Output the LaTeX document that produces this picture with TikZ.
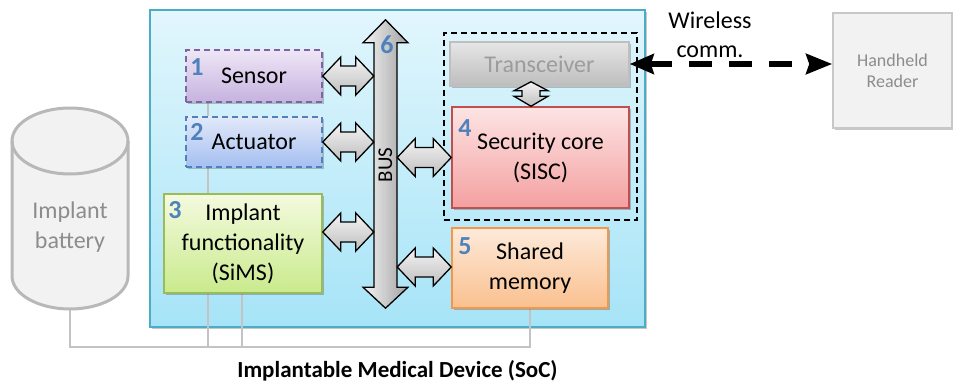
\documentclass[tikz,border=0pt]{standalone}
\usepackage{fontspec}
\setmainfont{Carlito}
\usetikzlibrary{calc,shadows,arrows.meta}
\definecolor{mainborder}{HTML}{4BACC6}
\definecolor{maintop}{HTML}{E2F6FD}
\definecolor{mainbot}{HTML}{A6E4F7}
\definecolor{senborder}{HTML}{8064A2}
\definecolor{sentop}{HTML}{EEE6F6}
\definecolor{senbot}{HTML}{C6B2DF}
\definecolor{actborder}{HTML}{4F81BD}
\definecolor{acttop}{HTML}{E2E9F9}
\definecolor{actbot}{HTML}{A5BFF1}
\definecolor{simsborder}{HTML}{9BBB59}
\definecolor{simstop}{HTML}{F4FADF}
\definecolor{simsbot}{HTML}{C9EA8C}
\definecolor{trxborder}{HTML}{BFBFBF}
\definecolor{trxtop}{HTML}{E6E6E6}
\definecolor{trxbot}{HTML}{BDBDBD}
\definecolor{trxtext}{HTML}{9C9C9C}
\definecolor{secborder}{HTML}{C0504D}
\definecolor{sectop}{HTML}{FDE4E4}
\definecolor{secbot}{HTML}{F4A0A0}
\definecolor{memborder}{HTML}{F79646}
\definecolor{memtop}{HTML}{FDEADA}
\definecolor{membot}{HTML}{FAC08F}
\definecolor{hhfill}{HTML}{F2F2F2}
\definecolor{hhborder}{HTML}{C8C8C8}
\definecolor{hhtext}{HTML}{8C8C8C}
\definecolor{batborder}{HTML}{B8B8B8}
\definecolor{wirecol}{HTML}{C3C3C3}
\definecolor{numblue}{HTML}{4F81BD}
\definecolor{arrtop}{HTML}{F4F4F4}
\definecolor{arrbot}{HTML}{BEBEBE}
\pgfdeclarelayer{back}
\pgfdeclarelayer{wires}
\pgfsetlayers{back,wires,main}
\newcommand\harr[2]{\draw[blockarrow] let \p1=#1, \p2=#2 in
  (\x1,\y1) -- (\x1+18pt,\y1+19pt) -- (\x1+18pt,\y1+10pt) -- (\x2-18pt,\y1+10pt)
  -- (\x2-18pt,\y1+19pt) -- (\x2,\y1) -- (\x2-18pt,\y1-19pt) -- (\x2-18pt,\y1-10pt)
  -- (\x1+18pt,\y1-10pt) -- (\x1+18pt,\y1-19pt) -- cycle;}
\begin{document}
\begin{tikzpicture}[x=1pt,y=-1pt,
  txt/.style={font=\fontsize{24}{30}\selectfont},
  shad/.style={drop shadow={shadow xshift=2pt,shadow yshift=-2pt,opacity=0.22,fill=black}},
  box/.style={shad,draw,line width=1.5pt,align=center,inner sep=0pt,txt},
  num/.style={font=\fontsize{26}{26}\selectfont\bfseries,text=numblue},
  blockarrow/.style={draw=black,line width=1.3pt,line join=miter,top color=arrtop,bottom color=arrbot},
  wire/.style={draw=wirecol,line width=2.5pt}]
\useasboundingbox (0,0) rectangle (953,385);

\begin{pgfonlayer}{back}
\node[shad,draw=mainborder,line width=2pt,top color=maintop,bottom color=mainbot,
  minimum width=495pt,minimum height=317pt,inner sep=0pt] (soc) at (397.5,168.5) {};
\end{pgfonlayer}

% battery
\node[minimum width=116pt,minimum height=201pt,inner sep=0pt] (battery) at (70,208.5) {};
\filldraw[fill=hhfill,draw=batborder,line width=3pt]
  (12,141) -- (12,276) .. controls (12,294.2) and (38,309) .. (70,309)
  .. controls (102,309) and (128,294.2) .. (128,276) -- (128,141)
  .. controls (128,122.8) and (102,108) .. (70,108)
  .. controls (38,108) and (12,122.8) .. (12,141) -- cycle;
\draw[draw=batborder,line width=3pt] (12,141) .. controls (12,159.2) and (38,174) .. (70,174)
  .. controls (102,174) and (128,159.2) .. (128,141);
\node[txt,text=hhtext,align=center] (battxt) at (70,227.5) {Implant\\battery};

% boxes
\node[box,draw=senborder,dashed,dash pattern=on 6pt off 4pt,top color=sentop,bottom color=senbot,
  minimum width=136pt,minimum height=52pt] (sensor) at (254,76) {Sensor};
\node[box,draw=actborder,dashed,dash pattern=on 6pt off 4pt,top color=acttop,bottom color=actbot,
  minimum width=136pt,minimum height=50pt] (actuator) at (254,142) {Actuator};
\node[box,draw=simsborder,top color=simstop,bottom color=simsbot,
  minimum width=158pt,minimum height=99pt] (sims) at (243,243.5) {Implant\\functionality\\(SiMS)};
\node[draw,line width=1.8pt,dash pattern=on 6pt off 4pt,minimum width=193pt,minimum height=187pt,
  inner sep=0pt] (secure) at (540.5,126.5) {};
\node[box,draw=trxborder,top color=trxtop,bottom color=trxbot,text=trxtext,
  minimum width=179pt,minimum height=44pt] (trx) at (539.5,64) {Transceiver};
\node[box,draw=secborder,top color=sectop,bottom color=secbot,
  minimum width=177pt,minimum height=101pt] (sec) at (540.5,157.5) {Security core\\(SISC)};
\node[box,draw=memborder,top color=memtop,bottom color=membot,
  minimum width=156pt,minimum height=80pt] (mem) at (530,268) {Shared\\memory};
\node[box,draw=hhborder,fill=hhfill,text=hhtext,font=\fontsize{18}{21}\selectfont,
  minimum width=119pt,minimum height=115pt] (hh) at (892.5,70.5) {Handheld\\Reader};

% numbers
\node[num] (n1) at (197,67) {1};
\node[num] (n2) at (197,132) {2};
\node[num] (n3) at (175,210) {3};
\node[num] (n4) at (465,128) {4};
\node[num] (n5) at (465,246) {5};

% wires
\coordinate (gnd) at (70,347);
\coordinate (w1) at (208,347);
\coordinate (w2) at (242,347);
\begin{pgfonlayer}{wires}
\draw[wire] (battery.south) -- (gnd) -| (mem.south);
\draw[wire] (w1) -- (w1 |- sensor.south);
\draw[wire] (w2) -- (w2 |- sims.south);
\end{pgfonlayer}

% bus
\node[minimum width=23pt,minimum height=288pt,inner sep=0pt] (bus) at (385.5,164) {};
\draw[draw=black,line width=1.3pt,line join=miter,left color=arrtop,right color=arrbot!85!black]
  let \p1=(bus.north), \p2=(bus.south) in
  (\x1,\y1) -- (\x1+22.5pt,\y1-23pt) -- (\x1+11.5pt,\y1-23pt) -- (\x1+11.5pt,\y2+21pt)
  -- (\x1+22.5pt,\y2+21pt) -- (\x2,\y2) -- (\x1-22.5pt,\y2+21pt) -- (\x1-11.5pt,\y2+21pt)
  -- (\x1-11.5pt,\y1-23pt) -- (\x1-22.5pt,\y1-23pt) -- cycle;
\node[font=\fontsize{21}{21}\selectfont,rotate=90] (bustxt) at (385.5,165) {BUS};
\node[num] (n6) at (387,45) {6};

% block arrows
\harr{(sensor.east)}{(sensor.east -| bus.west)}
\harr{(actuator.east)}{(actuator.east -| bus.west)}
\harr{($(sims.east)+(0,-11.5)$)}{($(sims.east -| bus.west)+(0,-11.5)$)}
\harr{(sec.west -| bus.east)}{(sec.west)}
\harr{($(mem.west -| bus.east)+(0,-1)$)}{($(mem.west)+(0,-1)$)}
\draw[blockarrow] let \p1=($(trx.south)+(-8.5,-5)$), \p2=($(sec.north)+(-9.5,0)$) in
  (\x1,\y1) -- (\x1+17pt,\y1-9pt) -- (\x1+9pt,\y1-9pt) -- (\x1+9pt,\y2+10pt)
  -- (\x1+17pt,\y2+10pt) -- (\x2,\y2) -- (\x1-17pt,\y2+10pt) -- (\x1-9pt,\y2+10pt)
  -- (\x1-9pt,\y1-9pt) -- (\x1-17pt,\y1-9pt) -- cycle;

% wireless
\draw[line width=6pt,dash pattern=on 23pt off 17pt,
  {Stealth[length=24pt,width=20pt,inset=3pt]}-{Stealth[length=26pt,width=20pt,inset=3pt]}]
  (trx.east) -- (trx.east -| hh.west);
\node[txt,align=center,font=\fontsize{24}{29}\selectfont] (wl) at (710,34.5) {Wireless\\comm.};

% title
\node[font=\fontsize{23}{23}\selectfont\bfseries] (title) at (397.5,371) {Implantable Medical Device (SoC)};
\end{tikzpicture}
\end{document}
